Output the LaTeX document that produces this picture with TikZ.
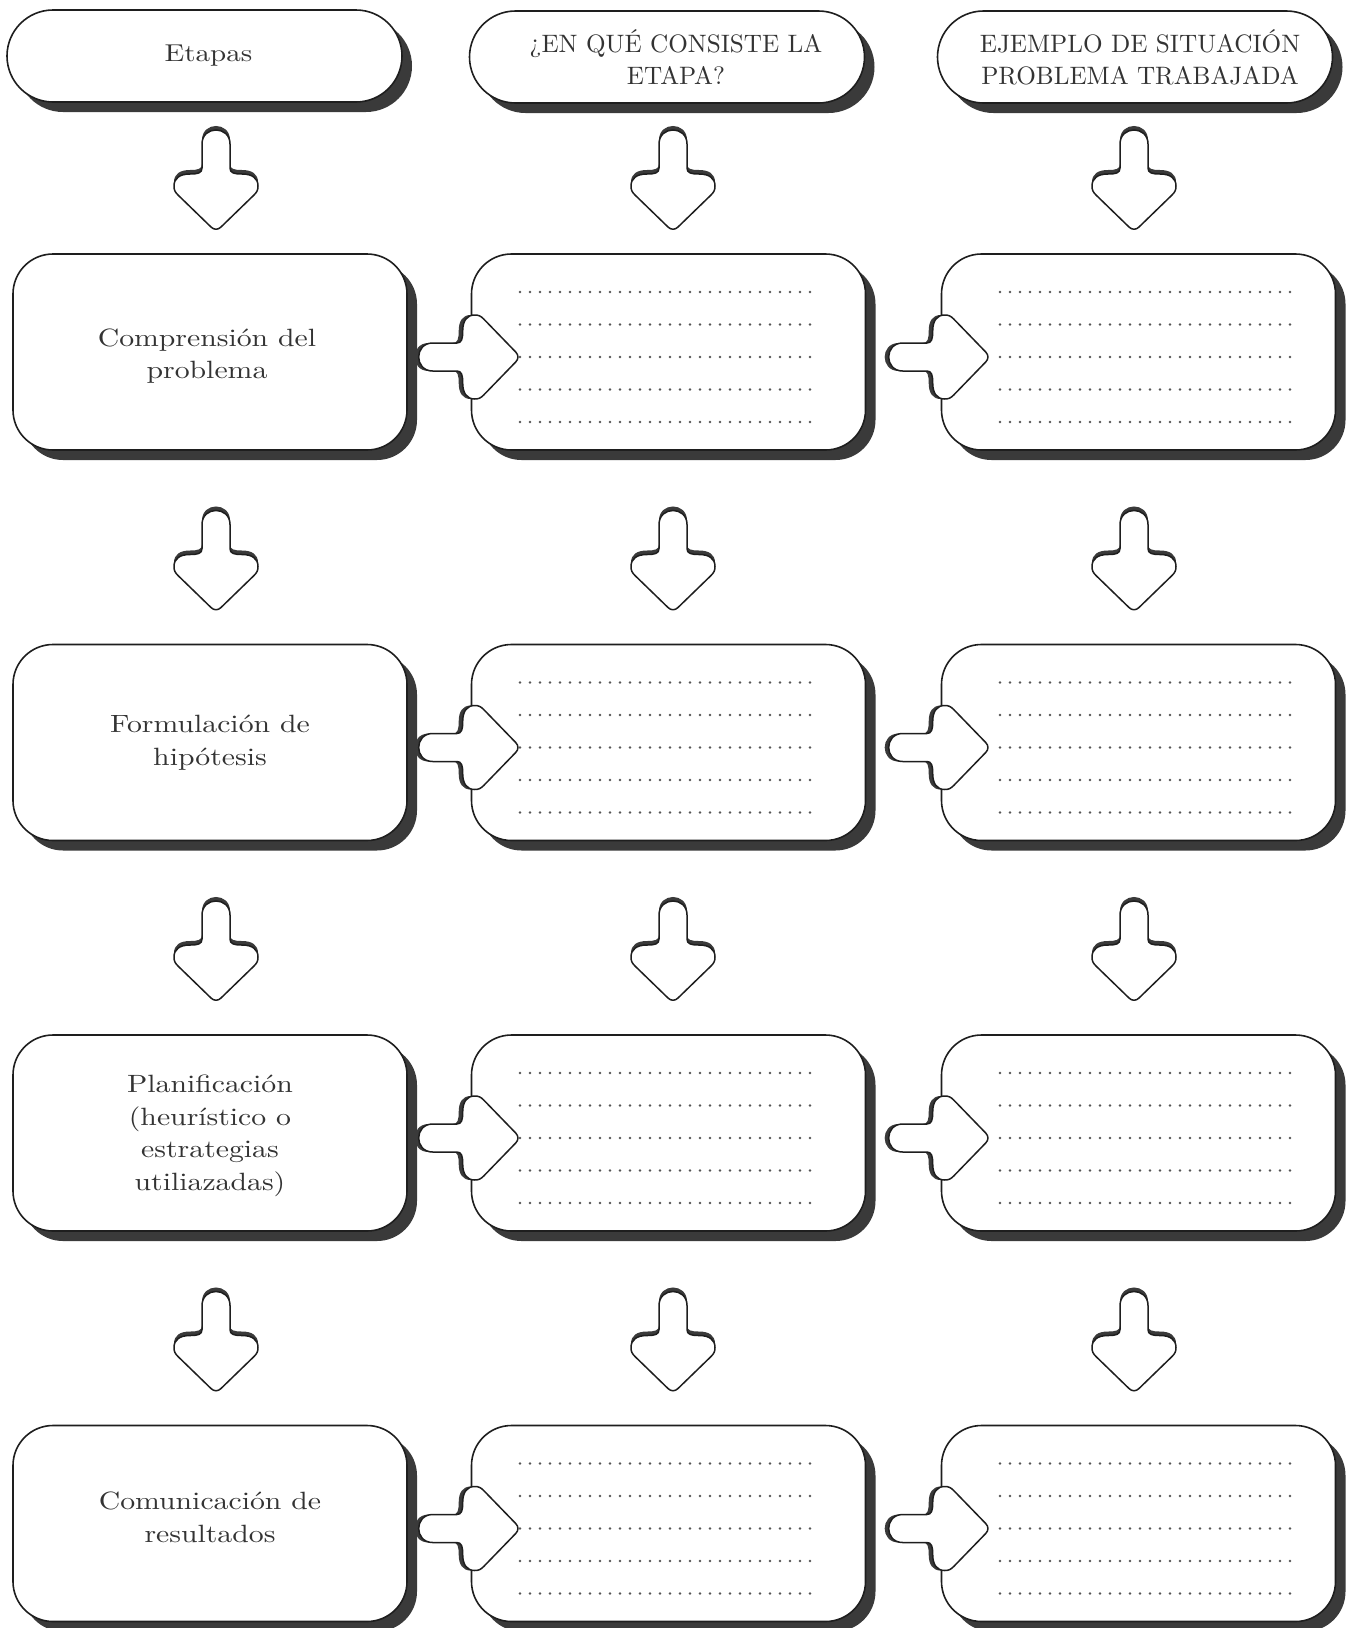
\documentclass[tikz,border=0pt]{standalone}
\usepackage{fontspec}
\newfontfamily\bodyfont{lmroman10-regular.otf}[FakeStretch=1.19]
\newfontfamily\headfont{lmroman10-regular.otf}
\usetikzlibrary{shadows,calc}
\definecolor{ink}{HTML}{1E1E1E}
\definecolor{shade}{HTML}{3A3A3A}
\definecolor{txt}{HTML}{333333}
\definecolor{dotc}{HTML}{555555}
\tikzset{
  boxshadow/.style={general shadow={shadow xshift=5pt, shadow yshift=-5pt, fill=shade, draw=none}},
  stagebox/.style={draw=ink, line width=0.8pt, fill=white, rounded corners=20pt,
    minimum width=197pt, minimum height=98pt, inner sep=0pt, boxshadow},
  stagetext/.style={inner sep=0pt, text=txt, align=center,
    font=\bodyfont\fontsize{12.5pt}{16.25pt}\selectfont},
  headbox/.style={draw=ink, line width=0.8pt, fill=white, rounded corners=23pt,
    minimum width=197.5pt, minimum height=46pt, inner sep=0pt, boxshadow},
  headtext/.style={inner sep=0pt, text=txt, align=center,
    font=\headfont\fontsize{12.6pt}{16pt}\selectfont},
  dotline/.style={draw=dotc, line width=1.3pt, line cap=round, dash pattern=on 0pt off 5pt},
  pics/downarrow/.style={code={
    \path[fill=shade, shift={(0,-4)}]
      (14,-36) -- (14,-12) .. controls (14,-7) and (18,-6) .. (26,-6)
      .. controls (36,-6) and (42,-2) .. (42,6) .. controls (42,10) and (41,12) .. (38,15)
      -- (5,47) .. controls (2,50) and (-2,50) .. (-5,47) -- (-38,15)
      .. controls (-41,12) and (-42,10) .. (-42,6) .. controls (-42,-2) and (-36,-6) .. (-26,-6)
      .. controls (-18,-6) and (-14,-7) .. (-14,-12) -- (-14,-36)
      .. controls (-14,-54.7) and (14,-54.7) .. (14,-36) -- cycle;
    \path[fill=white, draw=ink, line width=0.75pt, line join=round]
      (14,-36) -- (14,-12) .. controls (14,-7) and (18,-6) .. (26,-6)
      .. controls (36,-6) and (42,-2) .. (42,6) .. controls (42,10) and (41,12) .. (38,15)
      -- (5,47) .. controls (2,50) and (-2,50) .. (-5,47) -- (-38,15)
      .. controls (-41,12) and (-42,10) .. (-42,6) .. controls (-42,-2) and (-36,-6) .. (-26,-6)
      .. controls (-18,-6) and (-14,-7) .. (-14,-12) -- (-14,-36)
      .. controls (-14,-54.7) and (14,-54.7) .. (14,-36) -- cycle;
  }}
}
\begin{document}
\begin{tikzpicture}[x=0.5pt,y=-0.5pt]
\useasboundingbox[fill=white] (0,0) rectangle (1349,1628);
% headers
\node[headbox] (h1) at (204.5,56) {};
\node[headbox] (h2) at (667,57) {};
\node[headbox] (h3) at (1135,57) {};
\node[headtext, font=\bodyfont\fontsize{12.2pt}{16pt}\selectfont] (ht1) at ([shift={(4,0)}]h1.center) {Etapas};
\node[headtext] (ht2) at ([shift={(9,0)}]h2.center) {¿EN QUÉ CONSISTE LA\\ETAPA?};
\node[headtext] (ht3) at ([shift={(5,0)}]h3.center) {EJEMPLO DE SITUACIÓN\\PROBLEMA TRABAJADA};
% stage boxes
\foreach \r/\y in {1/352,2/742.5,3/1133,4/1523.5} {
  \node[stagebox] (b\r1) at (210,\y) {};
  \node[stagebox] (b\r2) at (668.5,\y) {};
  \node[stagebox] (b\r3) at (1138.5,\y) {};
}
\node[stagetext] (t1) at ([shift={(-3,4)}]b11.center) {Comprensión del\\problema};
\node[stagetext] (t2) at (b21.center) {Formulación de\\hipótesis};
\node[stagetext] (t3) at ([shift={(0,3)}]b31.center) {Planificación\\(heurístico o\\estrategias\\utiliazadas)};
\node[stagetext] (t4) at ([shift={(0,-6)}]b41.center) {Comunicación de\\resultados};
% dotted answer lines
\foreach \r in {1,...,4} {
  \foreach \o in {-60,-27.5,5,37.5,70} {
    \draw[dotline] ($(b\r2.center)+(-148.5,\o)$) -- ($(b\r2.center)+(144.5,\o)$);
    \draw[dotline] ($(b\r3.center)+(-138.5,\o)$) -- ($(b\r3.center)+(153.5,\o)$);
  }
}
% down arrows
\foreach \c/\dx in {1/6,2/4.5,3/-4.5} {
  \pic at ([shift={(\dx,-172)}]b1\c.center) {downarrow};
  \foreach \r in {2,3,4} {
    \pic at ([shift={(\dx,-182)}]b\r\c.center) {downarrow};
  }
}
% right arrows
\foreach \r in {1,...,4} {
  \pic[rotate=90] at ([shift={(-2,5)}]b\r2.west) {downarrow};
  \pic[rotate=90] at ([shift={(-2,5)}]b\r3.west) {downarrow};
}
\end{tikzpicture}
\end{document}
